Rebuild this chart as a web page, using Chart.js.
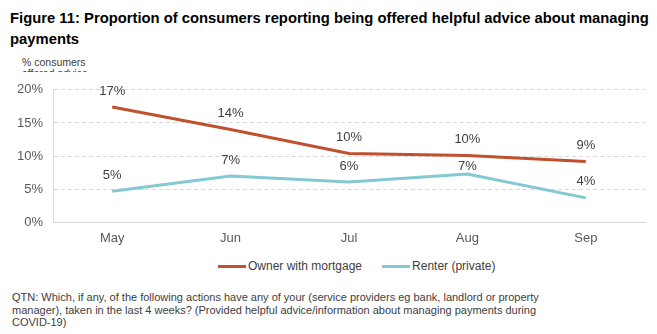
<!DOCTYPE html>
<html>
<head>
<meta charset="utf-8">
<script src="https://cdn.jsdelivr.net/npm/chart.js@4"></script>
<style>
  body { margin: 0; background: #fff; font-family: "Liberation Sans", Arial, sans-serif; }
  #wrap { position: relative; width: 657px; height: 334px; overflow: hidden; }
  #title { position: absolute; left: 10px; top: 8px; width: 647px; font-weight: bold; font-size: 14.8px; line-height: 21px; color: #000; }
  #ytitle { position: absolute; left: 22px; top: 57px; height: 15px; overflow: hidden; font-size: 10.5px; line-height: 11px; color: #404040; width: 80px; }
  #box { position: absolute; left: 0; top: 72px; width: 657px; height: 182px; }
  #legend { position: absolute; left: 218px; top: 259px; font-size: 12px; color: #404040; white-space: nowrap; }
  #legend span.item { display: inline-block; margin-right: 20px; }
  #legend span.sw { display: inline-block; width: 28px; height: 3px; vertical-align: middle; margin-right: 2px; }
  #note { position: absolute; left: 12px; top: 291px; width: 530px; font-size: 11px; line-height: 12.6px; color: #404040; }
</style>
</head>
<body>
<div id="wrap">
  <div id="title">Figure 11: Proportion of consumers reporting being offered helpful advice about managing payments</div>
  <div id="ytitle">% consumers offered advice</div>
  <div id="box"><canvas id="chart"></canvas></div>
  <div id="legend"></div>
  <div id="note">QTN: Which, if any, of the following actions have any of your (service providers eg bank, landlord or property manager), taken in the last 4 weeks? (Provided helpful advice/information about managing payments during COVID-19)</div>
</div>
<script>
// values (percent)
const months = ['May', 'Jun', 'Jul', 'Aug', 'Sep'];
const ownerMortgage = [17.4, 14.0, 10.4, 10.1, 9.2];
const renterPrivate = [4.7, 7.0, 6.1, 7.3, 3.7];
const yTicks = [0, 5, 10, 15, 20];

// draw the rounded value above every point (pulled closer if it would sit on the other line)
const pointLabels = {
  id: 'pointLabels',
  afterDatasetsDraw(chart) {
    const ctx = chart.ctx;
    ctx.save();
    ctx.font = '13px "Liberation Sans", Arial, sans-serif';
    ctx.fillStyle = '#404040';
    ctx.textAlign = 'center';
    ctx.textBaseline = 'middle';
    chart.data.datasets.forEach(function(ds, i) {
      chart.getDatasetMeta(i).data.forEach(function(pt, j) {
        let y = pt.y - 16;
        chart.data.datasets.forEach(function(other, k) {
          if (k === i) return;
          const oy = chart.getDatasetMeta(k).data[j].y;
          if (Math.abs(y - oy) < 8) y = pt.y - 8;
        });
        ctx.fillText(Math.round(ds.data[j]) + '%', pt.x, y);
      });
    });
    ctx.restore();
  }
};

const chart = new Chart(document.getElementById('chart'), {
  type: 'line',
  data: {
    labels: months,
    datasets: [
      { label: 'Owner with mortgage', data: ownerMortgage, borderColor: '#c0502e', backgroundColor: '#c0502e', borderWidth: 3, pointRadius: 0, tension: 0 },
      { label: 'Renter (private)', data: renterPrivate, borderColor: '#83c8d3', backgroundColor: '#83c8d3', borderWidth: 3, pointRadius: 0, tension: 0 }
    ]
  },
  options: {
    responsive: true,
    maintainAspectRatio: false,
    animation: false,
    layout: { padding: { top: 10, right: 12, left: 0, bottom: 0 } },
    plugins: {
      tooltip: { enabled: false },
      legend: { display: false }
    },
    scales: {
      x: {
        offset: true,
        grid: { display: false, drawTicks: false },
        border: { color: '#d9d9d9' },
        ticks: { color: '#595959', padding: 8, font: { family: '"Liberation Sans", Arial, sans-serif', size: 13 } }
      },
      y: {
        min: 0, max: 20,
        afterFit: function(s) { s.width = 53; },
        afterBuildTicks: function(s) { s.ticks = yTicks.map(function(v) { return { value: v }; }); },
        grid: { color: function(c) { return c.tick.value === 0 ? 'rgba(0,0,0,0)' : '#d9d9d9'; }, drawTicks: false },
        border: { color: '#d9d9d9', dash: [4, 3] },
        ticks: { color: '#595959', padding: 10, font: { family: '"Liberation Sans", Arial, sans-serif', size: 13 }, callback: function(v) { return v + '%'; } }
      }
    }
  },
  plugins: [pointLabels]
});

// legend built from the chart's datasets
document.getElementById('legend').innerHTML = chart.data.datasets.map(function(ds) {
  return '<span class="item"><span class="sw" style="background:' + ds.borderColor + '"></span>' + ds.label + '</span>';
}).join('');
</script>
</body>
</html>
